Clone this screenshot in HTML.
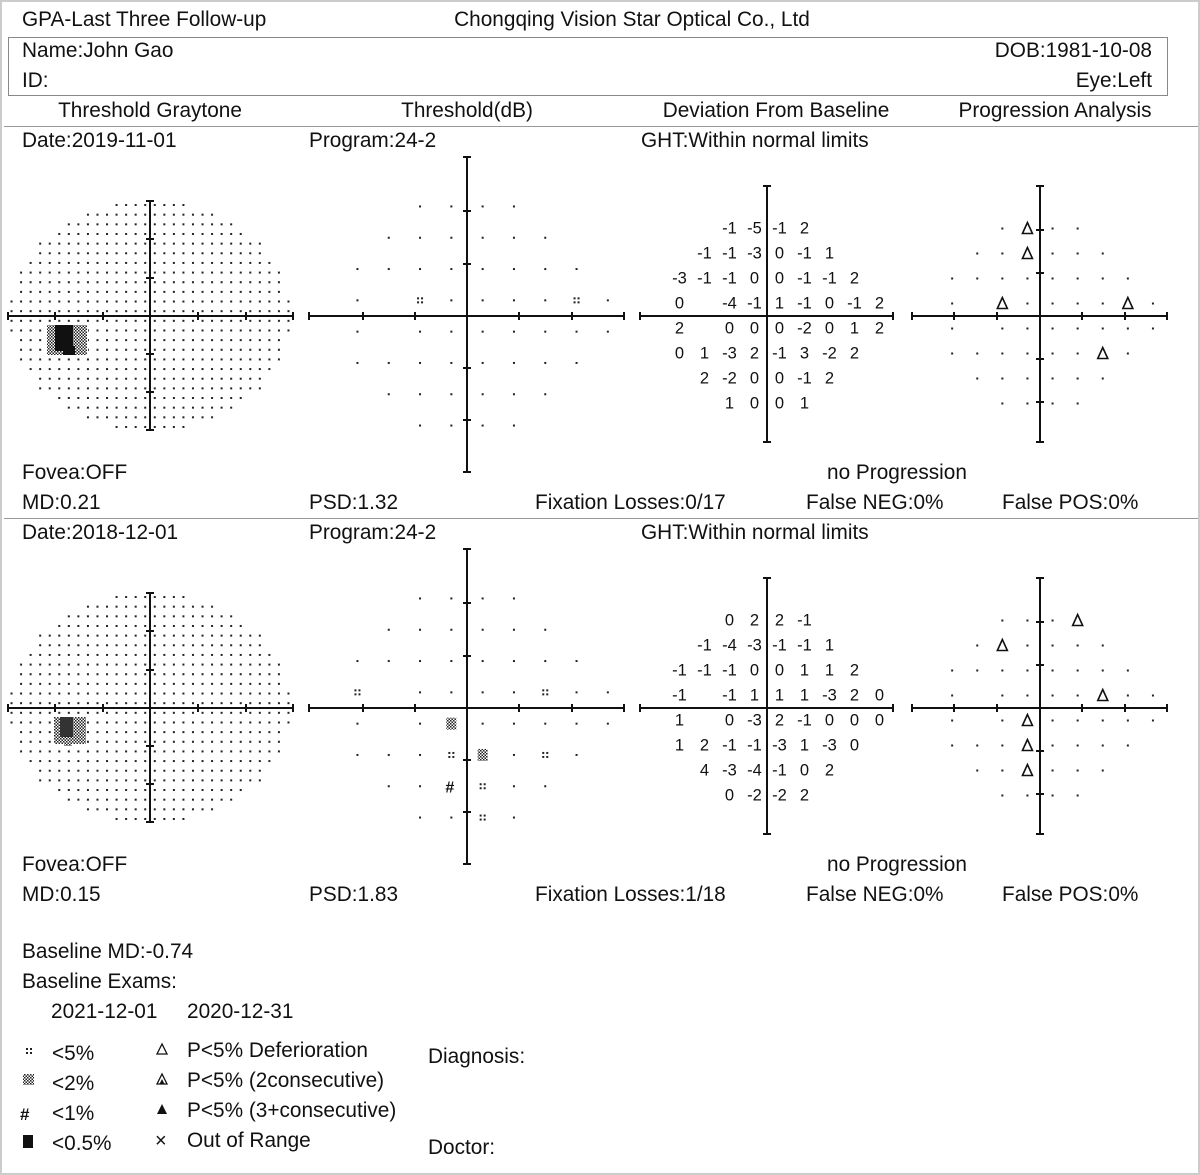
<!DOCTYPE html>
<html><head><meta charset="utf-8"><style>
html,body{margin:0;padding:0;background:#fff}
svg{display:block}
text{font-family:"Liberation Sans",Arial,sans-serif;fill:#111}
</style></head><body>
<svg id="s" width="1200" height="1175" viewBox="0 0 1200 1175" xmlns="http://www.w3.org/2000/svg">
<defs>
<pattern id="chk" width="3" height="3" patternUnits="userSpaceOnUse"><rect width="1.5" height="1.5" fill="#222"/><rect x="1.5" y="1.5" width="1.5" height="1.5" fill="#222"/></pattern>
</defs>
<rect x="1" y="1" width="1198" height="1173" fill="none" stroke="#ccc" stroke-width="2"/>
<g font-size="20.8">
<text x="22" y="26">GPA-Last Three Follow-up</text>
<text x="632" y="26" text-anchor="middle">Chongqing Vision Star Optical Co., Ltd</text>
<rect x="8.5" y="37.5" width="1159" height="58" fill="none" stroke="#888" stroke-width="1"/>
<text x="22" y="57">Name:John Gao</text>
<text x="22" y="87">ID:</text>
<text x="1152" y="57" text-anchor="end">DOB:1981-10-08</text>
<text x="1152" y="87" text-anchor="end">Eye:Left</text>
<text x="150" y="117" text-anchor="middle">Threshold Graytone</text>
<text x="467" y="117" text-anchor="middle">Threshold(dB)</text>
<text x="776" y="117" text-anchor="middle">Deviation From Baseline</text>
<text x="1055" y="117" text-anchor="middle">Progression Analysis</text>
</g>
<line x1="4" y1="126.5" x2="1198" y2="126.5" stroke="#999"/>
<line x1="4" y1="518.5" x2="1198" y2="518.5" stroke="#999"/>
<g font-size="20.8">
<text x="22" y="147">Date:2019-11-01</text><text x="309" y="147">Program:24-2</text><text x="641" y="147">GHT:Within normal limits</text>
<text x="22" y="479">Fovea:OFF</text><text x="827" y="479">no Progression</text>
<text x="22" y="509">MD:0.21</text><text x="309" y="509">PSD:1.32</text><text x="535" y="509">Fixation Losses:0/17</text><text x="806" y="509">False NEG:0%</text><text x="1002" y="509">False POS:0%</text>
<text x="22" y="539">Date:2018-12-01</text><text x="309" y="539">Program:24-2</text><text x="641" y="539">GHT:Within normal limits</text>
<text x="22" y="871">Fovea:OFF</text><text x="827" y="871">no Progression</text>
<text x="22" y="901">MD:0.15</text><text x="309" y="901">PSD:1.83</text><text x="535" y="901">Fixation Losses:1/18</text><text x="806" y="901">False NEG:0%</text><text x="1002" y="901">False POS:0%</text>
<text x="22" y="958">Baseline MD:-0.74</text>
<text x="22" y="988">Baseline Exams:</text>
<text x="51" y="1018">2021-12-01</text><text x="187" y="1018">2020-12-31</text>
<text x="52" y="1060">&lt;5%</text><text x="52" y="1090">&lt;2%</text><text x="52" y="1120">&lt;1%</text><text x="52" y="1150">&lt;0.5%</text>
<text x="187" y="1057">P&lt;5% Deferioration</text><text x="187" y="1087">P&lt;5% (2consecutive)</text><text x="187" y="1117">P&lt;5% (3+consecutive)</text><text x="187" y="1147">Out of Range</text>
<text x="428" y="1063">Diagnosis:</text><text x="428" y="1154">Doctor:</text>
</g>
<g id="legend">
<g fill="#222"><rect x="26" y="1048" width="2" height="2"/><rect x="30" y="1048" width="2" height="2"/><rect x="26" y="1052" width="2" height="2"/><rect x="30" y="1052" width="2" height="2"/></g>
<rect x="23" y="1074" width="11" height="11" fill="url(#chk)"/>
<text x="20" y="1120" font-size="17" font-weight="bold">#</text>
<rect x="23" y="1135" width="10" height="13" fill="#111"/>
<polygon points="162,1044 157,1054 167,1054" fill="none" stroke="#111" stroke-width="1.3"/>
<polygon points="162,1074 157,1084 167,1084" fill="none" stroke="#111" stroke-width="1.3"/><polygon points="162,1079 159.5,1084 164.5,1084" fill="#111"/>
<polygon points="162,1104 157,1114 167,1114" fill="#111"/>
<text x="155" y="1147" font-size="20">×</text>
</g>
<g id="dyn"></g>
</svg>
<script>
var NS="http://www.w3.org/2000/svg",g=document.getElementById("dyn");
function el(t,a,txt){var e=document.createElementNS(NS,t);for(var k in a)e.setAttribute(k,a[k]);if(txt!==undefined)e.textContent=txt;g.appendChild(e);return e;}
function line(x1,y1,x2,y2,w){el("line",{x1:x1,y1:y1,x2:x2,y2:y2,stroke:"#111","stroke-width":w||2});}
function dot(x,y,s){el("rect",{x:x-(s||2)/2,y:y-(s||2)/2,width:s||2,height:s||2,fill:"#222"});}
function q(x,y){dot(x-2,y-2,2);dot(x+2,y-2,2);dot(x-2,y+2,2);dot(x+2,y+2,2);}
function axes(cx,cy,x1,x2,y1,y2,tx,ty){line(x1,cy,x2,cy);line(cx,y1,cx,y2);
 [x1,x2].forEach(function(x){line(x,cy-4,x,cy+4,2)});[y1,y2].forEach(function(y){line(cx-4,y,cx+4,y,2)});
 tx.forEach(function(x){line(x,cy-4,x,cy+4,2)});ty.forEach(function(y){line(cx-4,y,cx+4,y,2)});}
var rows=[[-1.5,-0.5,0.5,1.5],[-2.5,-1.5,-0.5,0.5,1.5,2.5],[-3.5,-2.5,-1.5,-0.5,0.5,1.5,2.5,3.5],[-3.5,-1.5,-0.5,0.5,1.5,2.5,3.5,4.5],[-3.5,-1.5,-0.5,0.5,1.5,2.5,3.5,4.5],[-3.5,-2.5,-1.5,-0.5,0.5,1.5,2.5,3.5],[-2.5,-1.5,-0.5,0.5,1.5,2.5],[-1.5,-0.5,0.5,1.5]];
var ry=[-3.5,-2.5,-1.5,-0.5,0.5,1.5,2.5,3.5];
var dev=[
[["-1","-5","-1","2"],["-1","-1","-3","0","-1","1"],["-3","-1","-1","0","0","-1","-1","2"],["0","-4","-1","1","-1","0","-1","2"],["2","0","0","0","-2","0","1","2"],["0","1","-3","2","-1","3","-2","2"],["2","-2","0","0","-1","2"],["1","0","0","1"]],
[["0","2","2","-1"],["-1","-4","-3","-1","-1","1"],["-1","-1","-1","0","0","1","1","2"],["-1","-1","1","1","1","-3","2","0"],["1","0","-3","2","-1","0","0","0"],["1","2","-1","-1","-3","1","-3","0"],["4","-3","-4","-1","0","2"],["0","-2","-2","2"]]];
var tri=[[[-0.5,0],[-0.5,1],[-1.5,3],[3.5,3],[2.5,5]],[[1.5,0],[-1.5,1],[2.5,3],[-0.5,4],[-0.5,5],[-0.5,6]]];
var thr=[[[-1.5,3,"q"],[3.5,3,"q"]],[[-3.5,3,"q"],[2.5,3,"q"],[-0.5,4,"c"],[0.5,5,"c"],[-0.5,5,"q"],[2.5,5,"q"],[-0.5,6,"h"],[0.5,6,"q"],[0.5,7,"q"]]];
[0,392].forEach(function(off,si){
 var cy=316+off;
 axes(150,cy,8,293,cy-115,cy+114,[55,103,198,246],[cy-77,cy-38,cy+38,cy+76]);
 for(var i=-15;i<15;i++)for(var j=-12;j<12;j++){var x=150+(i+0.5)*9.55,y=cy+(j+0.5)*9.65;
  var dx=(x-150)/141,dy=(y-cy)/116;if(dx*dx+dy*dy>1)continue;if(Math.abs(x-150)<3||Math.abs(y-cy)<4)continue;dot(x,y,2);}
 if(si==0){el("rect",{x:46,y:cy+8,width:42,height:31,fill:"#fff"});el("rect",{x:47,y:cy+9,width:40,height:30,fill:"url(#chk)"});el("rect",{x:55,y:cy+9,width:18,height:26,fill:"#111"});el("rect",{x:63,y:cy+30,width:12,height:9,fill:"#111"});}
 else{el("rect",{x:53,y:cy+8,width:34,height:30,fill:"#fff"});el("rect",{x:54,y:cy+9,width:32,height:27,fill:"url(#chk)"});el("rect",{x:60,y:cy+9,width:13,height:20,fill:"#333"});el("rect",{x:64,y:cy+28,width:8,height:10,fill:"url(#chk)"});}
 axes(467,cy,309,624,cy-159,cy+156,[363,415,519,572],[cy-105,cy-52,cy+52,cy+104]);
 var sp={};thr[si].forEach(function(t){sp[t[0]+","+t[1]]=t[2];});
 rows.forEach(function(r,ri){r.forEach(function(c){var x=467+c*31.3,y=cy+ry[ri]*31.3,k=sp[c+","+ri];
  if(!k)dot(x,y,2);else if(k=="q")q(x,y);else if(k=="c")el("rect",{x:x-5,y:y-6,width:10,height:12,fill:"url(#chk)"});else el("text",{x:x-6,y:y+6,"font-size":"16","font-weight":"bold"},"#");});});
 axes(767,cy,640,893,cy-130,cy+126,[],[]);
 rows.forEach(function(r,ri){r.forEach(function(c,ci){el("text",{x:767+c*25,y:cy+ry[ri]*25+5,"font-size":"16.5","text-anchor":"middle"},dev[si][ri][ci]);});});
 axes(1040,cy,912,1167,cy-130,cy+126,[954,997,1082,1125],[cy-86,cy-43,cy+43,cy+86]);
 var ts={};tri[si].forEach(function(t){ts[t[0]+","+t[1]]=1;});
 rows.forEach(function(r,ri){r.forEach(function(c){var x=1040+c*25.1,y=cy+ry[ri]*25;
  if(ts[c+","+ri])el("polygon",{points:(x)+","+(y-6)+" "+(x-5)+","+(y+5)+" "+(x+5)+","+(y+5),fill:"none",stroke:"#111","stroke-width":"1.6"});else dot(x,y,2);});});
});
</script>
</body></html>
